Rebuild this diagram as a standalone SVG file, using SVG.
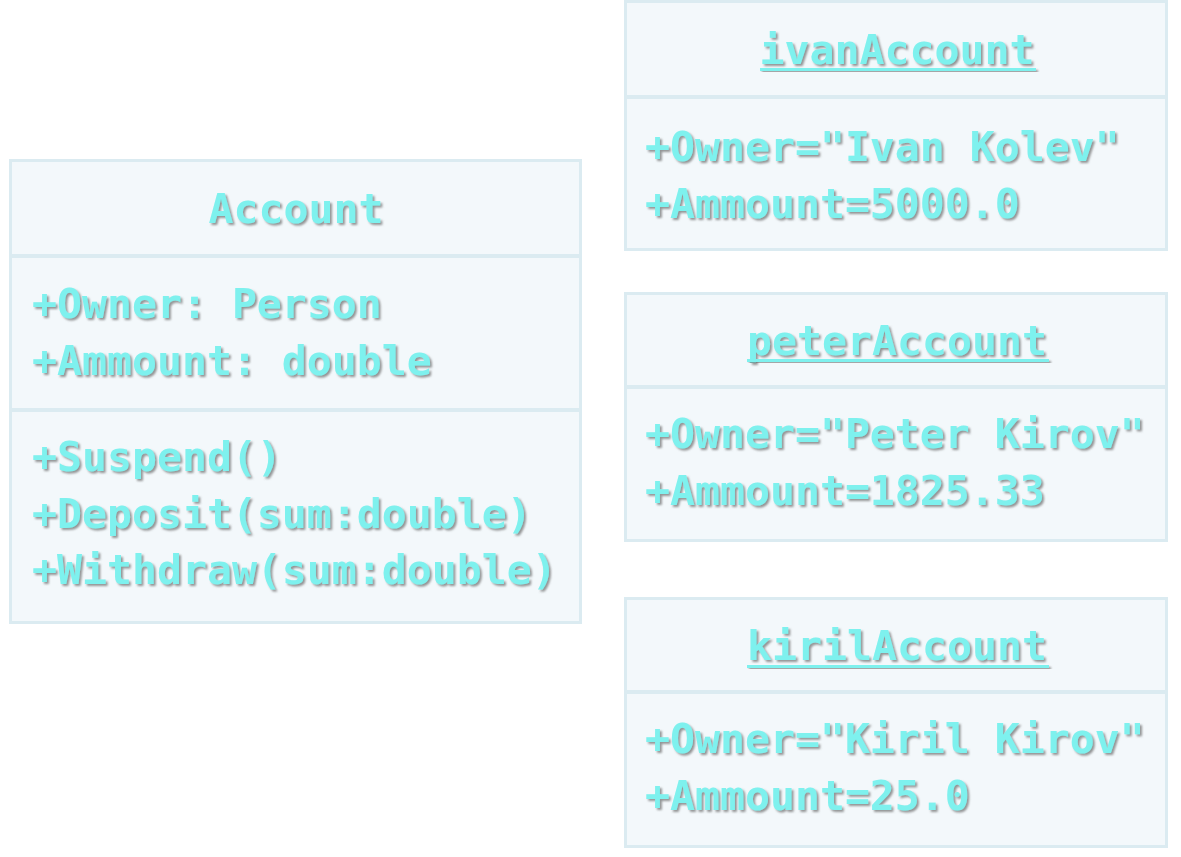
<svg xmlns="http://www.w3.org/2000/svg" width="1181" height="857" viewBox="0 0 1181 857">
<defs>
<filter id="sh" x="-10%" y="-30%" width="120%" height="160%">
<feDropShadow dx="2" dy="2" stdDeviation="1" flood-color="#6a6a6a" flood-opacity="0.7"/>
</filter>
<style>
.box{fill:#f3f8fb;stroke:#dbebf1;stroke-width:3}
.div{stroke:#dbebf1;stroke-width:4}
.t{font-family:"DejaVu Sans Mono","Liberation Mono",monospace;font-weight:bold;font-size:41.5px;fill:#7ef1ee;filter:url(#sh)}
.c{text-anchor:middle}
.u{fill:#7ef1ee;filter:url(#sh)}
</style>
</defs>
<rect width="1181" height="857" fill="#ffffff"/>
<g id="account">
<rect class="box" x="10.5" y="160.5" width="570" height="462"/>
<line class="div" x1="10" y1="256" x2="580" y2="256"/>
<line class="div" x1="10" y1="410" x2="580" y2="410"/>
<text class="t c" x="296" y="223">Account</text>
<text class="t" x="32" y="318">+Owner: Person</text>
<text class="t" x="32" y="375">+Ammount: double</text>
<text class="t" x="32" y="471">+Suspend()</text>
<text class="t" x="32" y="528">+Deposit(sum:double)</text>
<text class="t" x="32" y="584">+Withdraw(sum:double)</text>
</g>
<g id="ivanAccount">
<rect class="box" x="625.5" y="1.5" width="541" height="248"/>
<line class="div" x1="625" y1="97" x2="1167" y2="97"/>
<text class="t c" x="897" y="64">ivanAccount</text>
<rect class="u" x="760" y="68" width="276" height="3"/>
<text class="t" x="645" y="161">+Owner="Ivan Kolev"</text>
<text class="t" x="645" y="218">+Ammount=5000.0</text>
</g>
<g id="peterAccount">
<rect class="box" x="625.5" y="293.5" width="541" height="247"/>
<line class="div" x1="625" y1="387" x2="1167" y2="387"/>
<text class="t c" x="897" y="355">peterAccount</text>
<rect class="u" x="747" y="359" width="302" height="3"/>
<text class="t" x="645" y="448">+Owner="Peter Kirov"</text>
<text class="t" x="645" y="505">+Ammount=1825.33</text>
</g>
<g id="kirilAccount">
<rect class="box" x="625.5" y="598.5" width="541" height="248"/>
<line class="div" x1="625" y1="692" x2="1167" y2="692"/>
<text class="t c" x="897" y="660">kirilAccount</text>
<rect class="u" x="747" y="665" width="302" height="3"/>
<text class="t" x="645" y="753">+Owner="Kiril Kirov"</text>
<text class="t" x="645" y="810">+Ammount=25.0</text>
</g>
<g id="connectors"></g>
</svg>
